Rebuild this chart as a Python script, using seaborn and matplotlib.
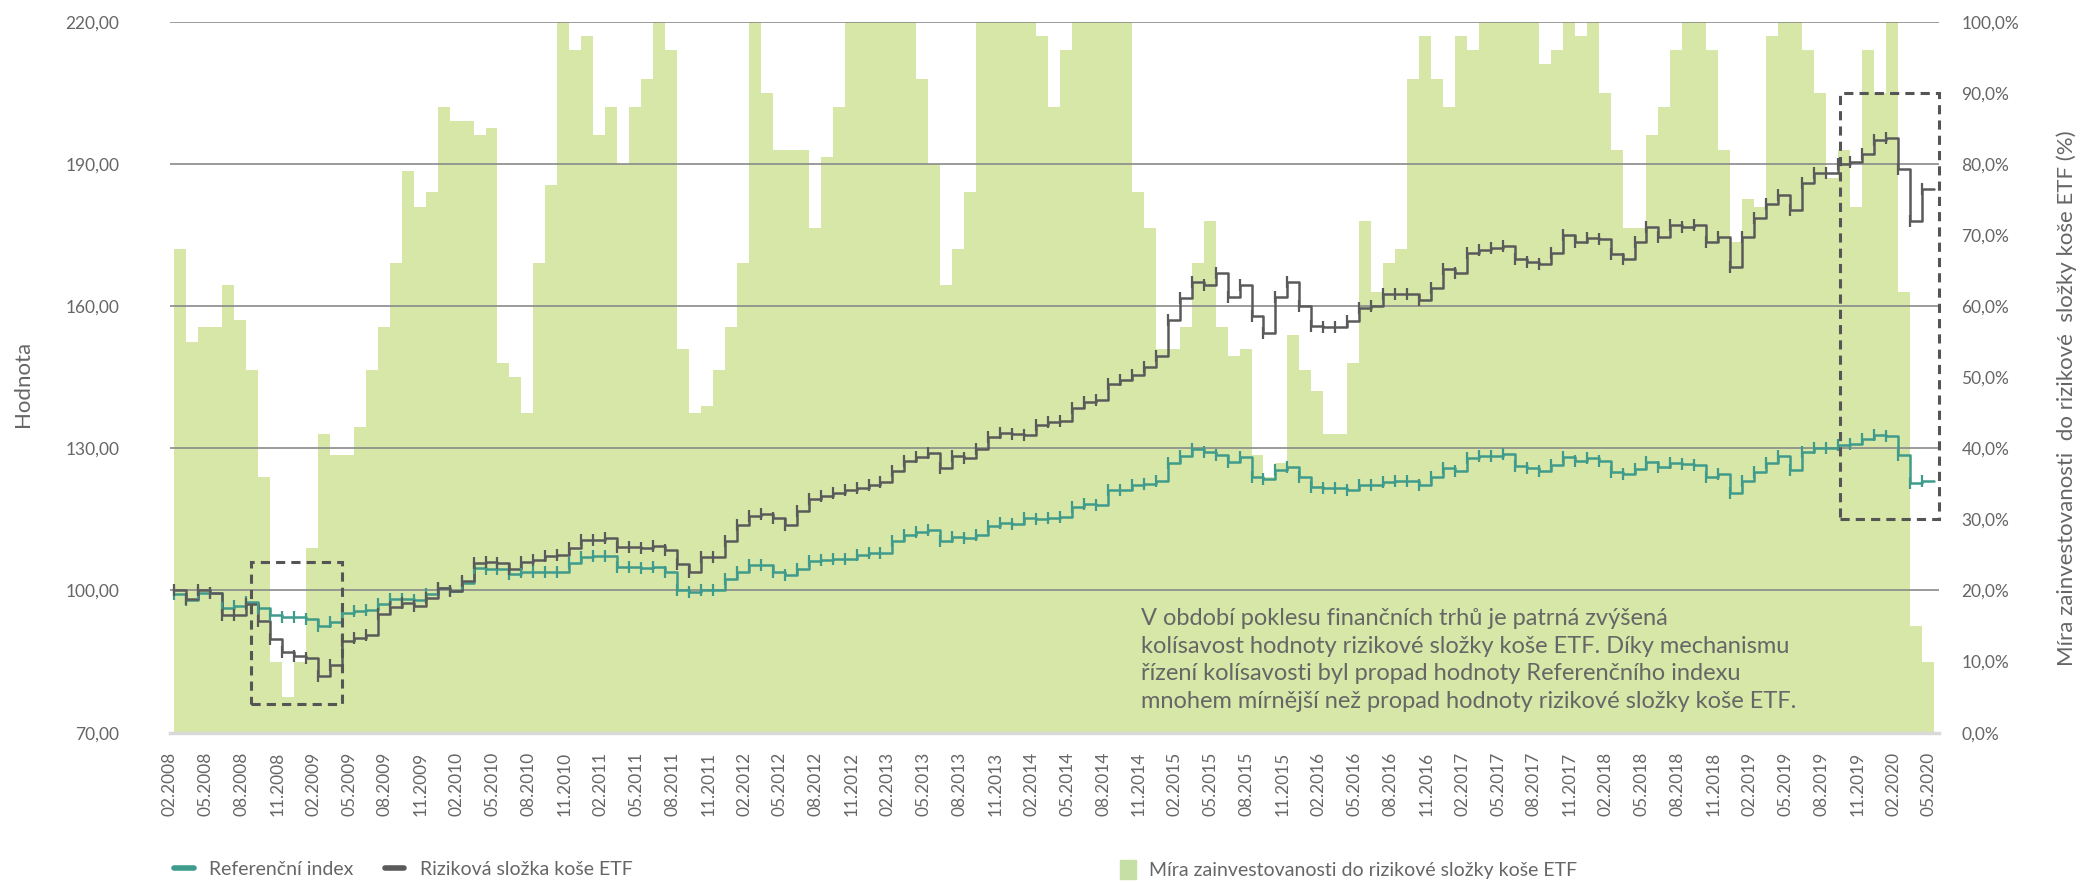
import numpy as np
import pandas as pd
import matplotlib
matplotlib.use('Agg')
import matplotlib.pyplot as plt
from matplotlib.patches import Rectangle, Patch
from matplotlib.lines import Line2D
import seaborn as sns

# monthly values, month 0 = 02.2008
exposure = [68, 55, 57, 57, 63, 58, 51, 36, 10, 5, 10, 26, 42, 39, 39, 43, 51, 57, 66, 79,
            74, 76, 88, 86, 86, 84, 85, 52, 50, 45, 66, 77, 100, 96, 98, 84, 88, 80, 88, 92,
            100, 96, 54, 45, 46, 51, 57, 66, 100, 90, 82, 82, 82, 71, 81, 88, 100, 100, 100, 100,
            100, 100, 92, 80, 63, 68, 76, 100, 100, 100, 100, 100, 98, 88, 96, 100, 100, 100, 100, 100,
            76, 71, 54, 54, 57, 66, 72, 57, 53, 54, 39, 36, 38, 56, 51, 48, 42, 42, 52, 72,
            62, 66, 68, 92, 98, 92, 88, 98, 96, 100, 100, 100, 100, 100, 94, 96, 100, 98, 100, 90,
            82, 71, 71, 84, 88, 96, 100, 100, 96, 82, 69, 75, 74, 98, 100, 100, 96, 90, 78, 82,
            74, 96, 90, 100, 62, 15, 10]

risk = [100.0, 98.2, 100.0, 99.5, 94.8, 94.8, 97.2, 93.6, 89.7, 87.0, 86.2, 85.8, 82.0, 84.3, 89.4,
        89.9, 90.7, 95.0, 96.5, 97.3, 96.8, 98.5, 100.6, 99.8, 102.1, 105.7, 106.0, 105.7, 104.6, 106.0,
        106.5, 107.3, 107.4, 108.9, 110.6, 110.6, 111.1, 109.2, 109.2, 109.0, 109.4, 108.6, 105.5, 104.0, 107.0,
        107.0, 110.4, 113.8, 115.7, 116.2, 115.2, 113.8, 116.7, 119.3, 120.0, 120.6, 121.1, 121.6, 122.2, 122.8,
        125.2, 127.4, 128.1, 128.9, 125.9, 128.4, 127.9, 129.8, 132.3, 133.2, 133.0, 132.8, 134.9, 135.5, 135.7,
        138.6, 139.8, 140.1, 143.5, 144.4, 145.4, 147.2, 149.5, 157.1, 161.8, 165.1, 164.4, 167.0, 162.0, 164.5,
        158.0, 154.4, 162.0, 165.1, 160.0, 155.9, 155.5, 155.5, 156.9, 159.5, 160.0, 162.5, 162.5, 162.5, 161.2,
        163.9, 167.8, 167.0, 171.2, 171.9, 172.2, 172.7, 170.0, 169.3, 168.8, 171.2, 175.1, 173.6, 174.4, 174.1,
        171.0, 170.0, 173.5, 176.6, 174.6, 177.1, 176.6, 177.1, 173.6, 174.6, 168.2, 174.6, 178.5, 181.6, 183.4,
        180.3, 186.0, 188.0, 188.0, 190.0, 190.5, 192.0, 195.0, 195.4, 189.0, 178.0, 184.6]

reference = [99.2, 98.0, 99.5, 99.5, 96.3, 96.8, 97.5, 96.3, 94.8, 94.5, 94.3, 94.0, 92.6, 93.3, 95.2,
             95.6, 95.9, 97.2, 98.2, 98.3, 97.9, 99.2, 100.6, 99.8, 101.6, 104.7, 104.5, 104.5, 103.5, 104.0,
             104.0, 103.8, 104.0, 105.7, 107.0, 107.3, 107.3, 105.0, 105.0, 104.8, 105.0, 104.0, 100.1, 99.6, 100.1,
             100.1, 102.4, 104.0, 105.3, 105.3, 104.0, 103.3, 104.5, 106.2, 106.5, 106.7, 106.7, 107.4, 107.9, 107.9,
             110.4, 111.8, 112.3, 112.8, 110.4, 111.3, 111.0, 111.8, 113.5, 114.3, 114.1, 115.2, 115.0, 115.2, 115.4,
             117.7, 118.3, 118.1, 121.1, 121.1, 122.2, 122.5, 123.2, 126.9, 128.4, 129.8, 129.3, 128.5, 127.1, 128.1,
             124.0, 123.5, 125.5, 126.1, 124.0, 121.9, 121.6, 121.6, 121.1, 122.2, 122.2, 122.8, 123.0, 123.0, 122.2,
             124.0, 125.9, 125.2, 127.9, 128.4, 128.4, 128.7, 126.3, 125.9, 125.2, 126.4, 128.1, 127.4, 127.9, 127.4,
             125.0, 124.5, 125.7, 127.1, 126.1, 126.9, 126.7, 126.4, 124.0, 124.5, 120.6, 123.2, 125.0, 126.9, 128.4,
             125.5, 129.3, 130.0, 130.0, 130.7, 131.0, 131.9, 132.8, 132.6, 128.5, 122.6, 123.1]

tick_months = np.arange(0, 148, 3)
tick_labels = [f"{(m + 1) % 12 + 1:02d}.{2008 + (m + 1) // 12}" for m in tick_months]
left_ticks = [70, 100, 130, 160, 190, 220]
right_ticks = list(range(0, 101, 10))

# highlighted periods: (first month, last month, low %, high %) on right axis
boxes = [(6.8, 14.4, 4, 24), (139.6, 147.8, 30, 90)]

note = ("V období poklesu finančních trhů je patrná zvýšená\n"
        "kolísavost hodnoty rizikové složky koše ETF. Díky mechanismu\n"
        "řízení kolísavosti byl propad hodnoty Referenčního indexu\n"
        "mnohem mírnější než propad hodnoty rizikové složky koše ETF.")

GREEN = '#d7e7a7'
TEAL = '#3f9b8b'
DARK = '#5a5a5a'
TXT = '#666666'

sns.set_style('white')
plt.rcParams['font.family'] = ['Lato', 'DejaVu Sans']

n = len(exposure)
x = np.append(np.arange(n) + 0.4, n + 0.4)
df = pd.DataFrame({'x': x,
                   'exposure': exposure + [exposure[-1]],
                   'risk': risk + [risk[-1]],
                   'reference': reference + [reference[-1]]})

fig = plt.figure(figsize=(20.88, 8.82), dpi=100)
ax = fig.add_axes([0.0812, 0.1693, 0.8475, 0.8061])
ax2 = ax.twinx()
ax.set_zorder(ax2.get_zorder() + 1)
ax.patch.set_visible(False)

# exposure area (right axis)
ax2.fill_between(df['x'], df['exposure'], step='post', color=GREEN, linewidth=0)
ax2.set_ylim(0, 100)
ax2.set_yticks(right_ticks)
ax2.set_yticklabels([f"{t},0%" for t in right_ticks])
ax2.tick_params(axis='y', length=0, pad=16, labelsize=12.5, labelcolor=TXT)
ax2.set_ylabel("Míra zainvestovanosti  do rizikové  složky koše ETF (%)",
               fontsize=16, color=TXT, rotation=90)
ax2.yaxis.set_label_coords(1.066, 0.47)

# value lines (left axis)
sns.lineplot(data=df, x='x', y='reference', ax=ax, color=TEAL, lw=1.8,
             drawstyle='steps-post', estimator=None, sort=False)
sns.lineplot(data=df, x='x', y='risk', ax=ax, color=DARK, lw=1.8,
             drawstyle='steps-post', estimator=None, sort=False)
ax.plot(df['x'][:-1], df['reference'][:-1], ls='none', marker='|', ms=8, mew=1.6, color=TEAL)
ax.plot(df['x'][:-1], df['risk'][:-1], ls='none', marker='|', ms=9, mew=1.6, color=DARK)

for m0, m1, lo, hi in boxes:
    y0 = 70 + lo * 1.5
    y1 = 70 + hi * 1.5
    ax.add_patch(Rectangle((m0, y0), m1 - m0, y1 - y0, fill=False, ec='#555555',
                           lw=2.2, ls=(0, (3, 2)), zorder=5, clip_on=False))

ax.text(81.2, 96.2, note, fontsize=17, color=TXT, va='top', ha='left', linespacing=1.38)

ax.set_xlim(0, 147.85)
ax.set_ylim(70, 220)
ax.set_yticks(left_ticks)
ax.set_yticklabels([f"{t},00" for t in left_ticks])
ax.set_xticks(tick_months)
ax.set_xticklabels(tick_labels, rotation=90)
ax.tick_params(axis='y', length=0, pad=36, labelsize=12.5, labelcolor=TXT)
ax.tick_params(axis='x', length=6, width=2, color='#d9d9d9', pad=8, labelsize=12.5, labelcolor=TXT)
ax.grid(axis='y', color='#8a8a8a', lw=1.2)
ax.grid(axis='x', visible=False)
ax.set_xlabel('')
ax.set_ylabel('Hodnota', fontsize=16, color=TXT)
ax.yaxis.set_label_coords(-0.0772, 0.49)

for a in (ax, ax2):
    for s in ['top', 'left', 'right']:
        a.spines[s].set_visible(False)
ax2.spines['bottom'].set_visible(False)
ax.spines['bottom'].set_color('#d9d9d9')
ax.spines['bottom'].set_linewidth(2.5)

line_handles = [Line2D([0], [0], color=TEAL, lw=4), Line2D([0], [0], color=DARK, lw=4)]
fig.legend(line_handles, ['Referenční index', 'Riziková složka koše ETF'],
           loc='center left', bbox_to_anchor=(0.075, 0.014), ncol=2, frameon=False,
           fontsize=14, labelcolor=TXT, handlelength=1.0, handletextpad=0.8, columnspacing=1.6)
fig.legend([Patch(color='#c6dfa5')], ['Míra zainvestovanosti do rizikové složky koše ETF'],
           loc='center left', bbox_to_anchor=(0.528, 0.014), frameon=False,
           fontsize=14, labelcolor=TXT, handlelength=0.8, handleheight=1.1, handletextpad=0.7)

fig.savefig('out.png', dpi=100)
